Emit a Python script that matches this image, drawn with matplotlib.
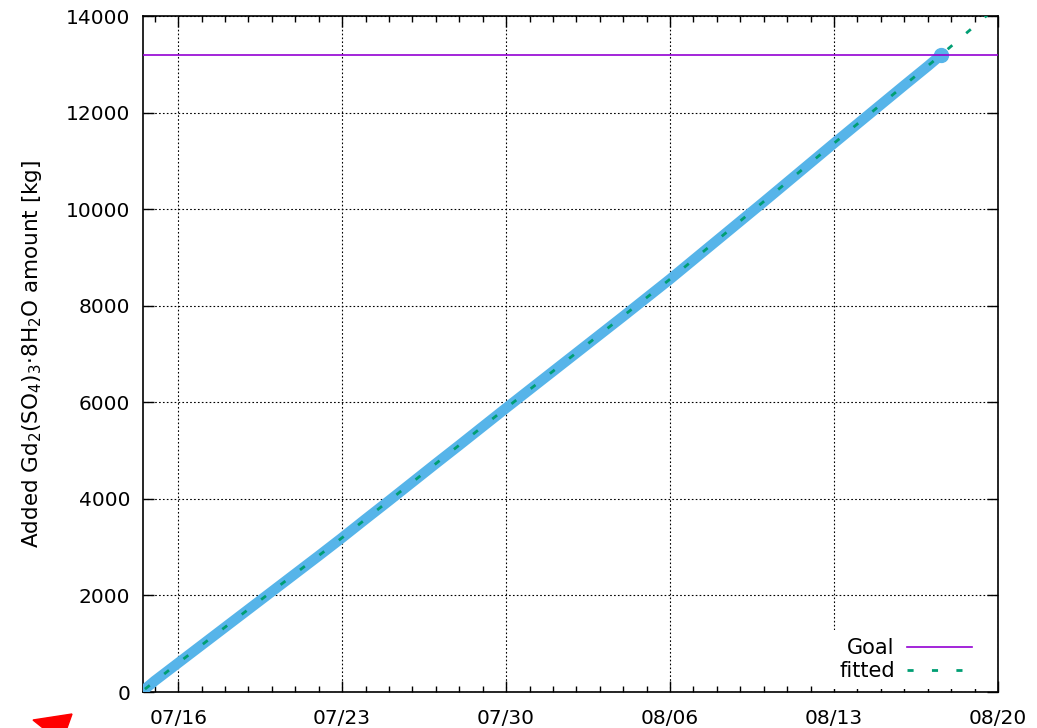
import matplotlib
matplotlib.use("Agg")
import matplotlib.pyplot as plt
import matplotlib.dates as mdates
from matplotlib.patches import Polygon
import pandas as pd

# ---- data ----
data_dates = ["2024-07-14 14:00", "2024-07-15 00:00", "2024-07-16 00:00", "2024-07-17 00:00", "2024-07-18 00:00",
              "2024-07-19 00:00", "2024-07-20 00:00", "2024-07-21 00:00", "2024-07-22 00:00", "2024-07-23 00:00",
              "2024-07-24 00:00", "2024-07-25 00:00", "2024-07-26 00:00", "2024-07-27 00:00", "2024-07-28 00:00",
              "2024-07-29 00:00", "2024-07-30 00:00", "2024-07-31 00:00", "2024-08-01 00:00", "2024-08-02 00:00",
              "2024-08-03 00:00", "2024-08-04 00:00", "2024-08-05 00:00", "2024-08-06 00:00", "2024-08-07 00:00",
              "2024-08-08 00:00", "2024-08-09 00:00", "2024-08-10 00:00", "2024-08-11 00:00", "2024-08-12 00:00",
              "2024-08-13 00:00", "2024-08-14 00:00", "2024-08-15 00:00", "2024-08-16 00:00", "2024-08-17 00:00",
              "2024-08-17 14:00"]
data_values = [60, 230, 600, 970, 1340, 1710, 2080, 2450, 2820, 3195,
               3580, 3960, 4345, 4730, 5110, 5495, 5880, 6260, 6640, 7020,
               7400, 7780, 8165, 8550, 8950, 9350, 9750, 10150, 10555, 10960,
               11365, 11765, 12165, 12565, 12960, 13200]

fit_dates = ["2024-07-14 14:00", "2024-07-16 00:00", "2024-07-23 00:00", "2024-07-30 00:00", "2024-08-06 00:00",
             "2024-08-13 00:00", "2024-08-17 14:00", "2024-08-20 00:00"]
fit_values = [60, 600, 3195, 5880, 8550, 11365, 13200, 14210]

goal_value = 13200

xtick_dates = ["2024-07-16", "2024-07-23", "2024-07-30", "2024-08-06", "2024-08-13", "2024-08-20"]
xtick_labels = ["07/16", "07/23", "07/30", "08/06", "08/13", "08/20"]
x_start, x_end = "2024-07-14 12:00", "2024-08-20"
y_min, y_max = 0, 14000
ytick_values = [0, 2000, 4000, 6000, 8000, 10000, 12000, 14000]

# ---- figure ----
plt.rcParams['font.family'] = ['DejaVu Sans']
fig = plt.figure(figsize=(10.37, 7.28), dpi=100)
ax = fig.add_axes([143/1037, 1-692/728, (998-143)/1037, (692-16)/728])

dd = pd.to_datetime(data_dates, format="%Y-%m-%d %H:%M")
fd = pd.to_datetime(fit_dates, format="%Y-%m-%d %H:%M")

ax.plot(dd, data_values, color="#56b4e9", lw=7.5, solid_capstyle="round",
        solid_joinstyle="round", zorder=3)
ax.plot(dd[-1:], data_values[-1:], "o", color="#56b4e9", ms=10, zorder=3)
ax.axhline(goal_value, color="#9400d3", lw=1.2, zorder=4, label="Goal")
ax.plot(fd, fit_values, color="#009e73", lw=2, dashes=(2.2, 6.6), zorder=5, label="fitted")

ax.set_xlim(pd.Timestamp(x_start), pd.Timestamp(x_end))
ax.set_ylim(y_min, y_max)

ax.set_xticks(pd.to_datetime(xtick_dates))
ax.set_xticklabels(xtick_labels)
ax.xaxis.set_minor_locator(mdates.DayLocator())
ax.set_yticks(ytick_values)
ax.set_yticklabels([str(v) for v in ytick_values])

ax.tick_params(axis="both", which="major", direction="in", length=8, width=1,
               top=True, right=True, labelsize=14.5, pad=12)
ax.tick_params(axis="x", which="minor", direction="in", length=4.5, width=1, top=True)
ax.tick_params(axis="y", which="major", pad=9)

ax.grid(True, which="major", color="black", ls=(0, (1.5, 2)), lw=0.8, zorder=1)
for s in ax.spines.values():
    s.set_linewidth(1.2)

ax.set_ylabel("Added Gd$_2$(SO$_4$)$_3$·8H$_2$O amount [kg]", fontsize=15.5, labelpad=16)

leg = ax.legend(loc="lower right", frameon=True, markerfirst=False, fontsize=15,
                handlelength=3.1, borderaxespad=0, handletextpad=0.6,
                labelspacing=0.15, fancybox=False, borderpad=0.4,
                bbox_to_anchor=(0.979, 0.004))
leg.get_frame().set_edgecolor("none")
leg.get_frame().set_facecolor("white")
leg.get_frame().set_alpha(1)
leg.set_zorder(6)

# red arrow-head fragment at bottom-left edge
pts = [(33, 720), (72, 714), (67, 728), (43, 728)]
poly = Polygon([(x/1037, 1-y/728) for x, y in pts], closed=True, color="red",
               transform=fig.transFigure, clip_on=False)
fig.patches.append(poly)

fig.savefig("out.png", dpi=100)
